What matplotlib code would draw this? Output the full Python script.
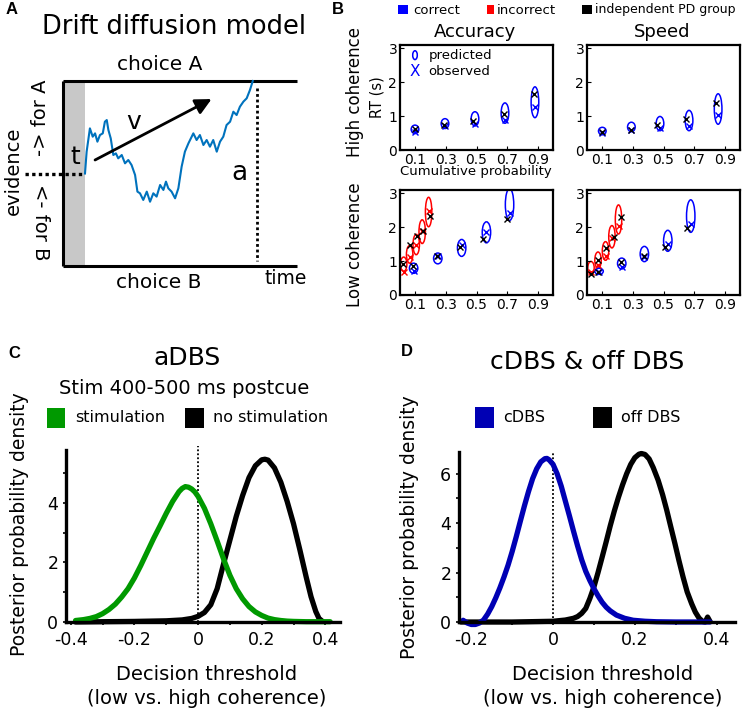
import matplotlib
matplotlib.use('Agg')
import matplotlib.pyplot as plt
from matplotlib.patches import Ellipse, Rectangle

plt.rcParams['font.family'] = ['DejaVu Sans']
plt.rcParams['axes.unicode_minus'] = False

# ---------------- data ----------------
# Panel A: drift diffusion trace (time 0..1, evidence -1..1)
walk_time = [0.094, 0.101, 0.115, 0.127, 0.137, 0.147, 0.158, 0.170, 0.179, 0.187,
             0.194, 0.204, 0.215, 0.226, 0.236, 0.251, 0.265, 0.279, 0.293, 0.308,
             0.318, 0.329, 0.343, 0.358, 0.372, 0.386, 0.400, 0.415, 0.429, 0.440,
             0.450, 0.464, 0.479, 0.493, 0.507, 0.521, 0.536, 0.557, 0.571, 0.585,
             0.600, 0.614, 0.628, 0.642, 0.657, 0.671, 0.685, 0.699, 0.714, 0.728,
             0.742, 0.756, 0.771, 0.785, 0.799, 0.811]
walk_evidence = [0.0, 0.236, 0.488, 0.398, 0.434, 0.344, 0.416, 0.434, 0.560, 0.578,
                 0.470, 0.380, 0.200, 0.218, 0.164, 0.200, 0.110, 0.146, 0.092, -0.016,
                 -0.196, -0.214, -0.286, -0.196, -0.305, -0.214, -0.250, -0.124, -0.178, -0.088,
                 -0.160, -0.196, -0.268, -0.160, 0.074, 0.236, 0.326, 0.434, 0.362, 0.416,
                 0.308, 0.362, 0.290, 0.362, 0.236, 0.344, 0.398, 0.524, 0.560, 0.668,
                 0.632, 0.722, 0.777, 0.813, 0.903, 1.0]
nondecision_t = 0.094
boundary_t = 0.829
drift_start = (0.137, 0.146)
drift_end = (0.635, 0.805)

# Panel B quantile data
quant_ticks = [0.1, 0.3, 0.5, 0.7, 0.9]
quant_labels = ['0.1', '0.3', '0.5', '0.7', '0.9']
rt_ticks = [0, 1, 2, 3]

# High coherence, accuracy
hacc_pred_q = [0.098, 0.294, 0.49, 0.686, 0.882]
hacc_pred_rt = [0.61, 0.78, 0.92, 1.09, 1.41]
hacc_pred_h = [0.25, 0.29, 0.42, 0.60, 0.91]
hacc_obs_rt = [0.52, 0.70, 0.78, 0.89, 1.28]
hacc_pd_q = [0.098, 0.29, 0.48, 0.68, 0.875]
hacc_pd_rt = [0.63, 0.73, 0.87, 1.05, 1.64]

# High coherence, speed
hspd_pred_q = [0.10, 0.29, 0.477, 0.667, 0.857]
hspd_pred_rt = [0.56, 0.68, 0.78, 0.87, 1.21]
hspd_pred_h = [0.22, 0.28, 0.42, 0.60, 0.90]
hspd_obs_rt = [0.49, 0.60, 0.66, 0.72, 1.02]
hspd_pd_q = [0.096, 0.286, 0.46, 0.65, 0.84]
hspd_pd_rt = [0.53, 0.60, 0.73, 0.92, 1.40]

# Low coherence, accuracy
lacc_cor_q = [0.089, 0.247, 0.403, 0.565, 0.716]
lacc_cor_rt = [0.79, 1.08, 1.39, 1.85, 2.67]
lacc_cor_h = [0.30, 0.32, 0.50, 0.62, 0.94]
lacc_cor_obs = [0.72, 1.15, 1.49, 1.85, 2.42]
lacc_inc_q = [0.024, 0.063, 0.106, 0.145, 0.187]
lacc_inc_rt = [0.91, 1.20, 1.49, 1.87, 2.45]
lacc_inc_h = [0.42, 0.52, 0.60, 0.70, 0.87]
lacc_inc_obs = [0.67, 1.12, 1.48, 1.90, 2.47]
lacc_pd_q = [0.02, 0.065, 0.112, 0.148, 0.194, 0.085, 0.24, 0.39, 0.545, 0.70]
lacc_pd_rt = [0.91, 1.49, 1.73, 1.89, 2.34, 0.87, 1.15, 1.42, 1.65, 2.25]

# Low coherence, speed
lspd_cor_q = [0.079, 0.227, 0.375, 0.528, 0.678]
lspd_cor_rt = [0.70, 0.93, 1.21, 1.60, 2.33]
lspd_cor_h = [0.18, 0.32, 0.45, 0.62, 0.96]
lspd_cor_obs = [0.68, 0.84, 1.13, 1.52, 2.10]
lspd_inc_q = [0.026, 0.072, 0.121, 0.163, 0.206]
lspd_inc_rt = [0.80, 1.03, 1.30, 1.72, 2.23]
lspd_inc_h = [0.38, 0.48, 0.55, 0.66, 0.86]
lspd_inc_obs = [0.68, 0.88, 1.14, 1.67, 2.04]
lspd_pd_q = [0.026, 0.074, 0.121, 0.174, 0.222, 0.075, 0.222, 0.37, 0.513, 0.656]
lspd_pd_rt = [0.63, 1.03, 1.40, 1.72, 2.30, 0.68, 0.96, 1.15, 1.43, 1.98]

# Panel C posterior densities
c_stim_x = [-0.385, -0.36, -0.34, -0.32, -0.30, -0.28, -0.26, -0.24, -0.22, -0.20,
            -0.18, -0.16, -0.14, -0.12, -0.10, -0.08, -0.06, -0.05, -0.04, -0.03,
            -0.02, -0.01, 0.00, 0.02, 0.04, 0.06, 0.08, 0.10, 0.12, 0.14,
            0.16, 0.18, 0.20, 0.22, 0.24, 0.26, 0.28, 0.30, 0.34, 0.38, 0.415]
c_stim_y = [0.05, 0.08, 0.12, 0.18, 0.28, 0.42, 0.60, 0.84, 1.12, 1.48,
            1.90, 2.35, 2.80, 3.22, 3.65, 4.05, 4.38, 4.49, 4.55, 4.53,
            4.47, 4.37, 4.22, 3.82, 3.30, 2.72, 2.12, 1.57, 1.12, 0.78,
            0.52, 0.34, 0.22, 0.13, 0.08, 0.05, 0.03, 0.02, 0.01, 0.01, 0.01]
c_nostim_x = [-0.385, -0.30, -0.20, -0.10, -0.05, -0.02, 0.0, 0.02, 0.04, 0.06,
              0.08, 0.10, 0.12, 0.14, 0.16, 0.18, 0.20, 0.21, 0.22, 0.24,
              0.26, 0.28, 0.30, 0.32, 0.34, 0.355, 0.37, 0.38, 0.39]
c_nostim_y = [0.0, 0.01, 0.02, 0.04, 0.07, 0.12, 0.19, 0.32, 0.58, 1.12,
              1.95, 2.75, 3.55, 4.25, 4.85, 5.25, 5.45, 5.47, 5.44, 5.18,
              4.70, 4.05, 3.30, 2.42, 1.50, 0.85, 0.35, 0.12, 0.03]
c_xticks = [-0.4, -0.2, 0.0, 0.2, 0.4]
c_xlabels = ['-0.4', '-0.2', '0', '0.2', '0.4']
c_yticks = [0, 2, 4]

# Panel D posterior densities
d_cdbs_x = [-0.22, -0.21, -0.20, -0.19, -0.18, -0.17, -0.16, -0.15, -0.14, -0.13,
            -0.12, -0.11, -0.10, -0.09, -0.08, -0.07, -0.06, -0.05, -0.04, -0.03,
            -0.02, -0.015, -0.01, 0.0, 0.01, 0.02, 0.03, 0.04, 0.05, 0.06,
            0.07, 0.08, 0.09, 0.10, 0.11, 0.12, 0.13, 0.14, 0.155, 0.175,
            0.196, 0.225, 0.253, 0.30, 0.384]
d_cdbs_y = [0.07, -0.04, -0.10, -0.10, -0.04, 0.08, 0.32, 0.62, 0.98, 1.38,
            1.82, 2.30, 2.85, 3.45, 4.08, 4.70, 5.28, 5.80, 6.20, 6.48,
            6.61, 6.62, 6.57, 6.38, 6.00, 5.50, 4.90, 4.30, 3.68, 3.08,
            2.52, 2.05, 1.68, 1.35, 1.06, 0.80, 0.60, 0.45, 0.28, 0.15,
            0.07, 0.03, 0.01, 0.0, 0.0]
d_off_x = [-0.225, -0.10, 0.0, 0.03, 0.05, 0.06, 0.07, 0.08, 0.09, 0.10,
           0.11, 0.12, 0.13, 0.14, 0.15, 0.16, 0.17, 0.18, 0.19, 0.20,
           0.21, 0.216, 0.225, 0.235, 0.245, 0.257, 0.268, 0.278, 0.288, 0.298,
           0.308, 0.318, 0.328, 0.339, 0.348, 0.357, 0.366, 0.372, 0.378, 0.384]
d_off_y = [0.0, 0.0, 0.03, 0.08, 0.15, 0.22, 0.35, 0.55, 0.95, 1.42,
           2.00, 2.62, 3.25, 3.90, 4.50, 5.05, 5.55, 6.00, 6.38, 6.65,
           6.79, 6.82, 6.78, 6.60, 6.25, 5.74, 5.15, 4.53, 3.85, 3.18,
           2.48, 1.82, 1.22, 0.74, 0.40, 0.16, 0.02, 0.0, 0.20, 0.02]
d_xticks = [-0.2, 0.0, 0.2, 0.4]
d_xlabels = ['-0.2', '0', '0.2', '0.4']
d_yticks = [0, 2, 4, 6]

# ---------------- layout helpers ----------------
W, H = 744, 711
fig = plt.figure(figsize=(W / 100, H / 100), dpi=100)


def fx(px):
    return px / W


def fy(py):
    return 1 - py / H


def ax_px(l, t, r, b):
    return fig.add_axes([l / W, 1 - b / H, (r - l) / W, (b - t) / H])


def ftext(px, py, s, size, ha='center', va='center', **kw):
    fig.text(fx(px), fy(py), s, fontsize=size, ha=ha, va=va, **kw)


def fsquare(l, t, r, b, color):
    fig.add_artist(Rectangle((fx(l), fy(b)), (r - l) / W, (b - t) / H,
                             transform=fig.transFigure, color=color, lw=0))


LETTER = dict(family=['Liberation Sans', 'DejaVu Sans'], weight='bold')

# ---------------- Panel A ----------------
axA = ax_px(63, 81, 297, 266)
axA.set_xlim(0, 1)
axA.set_ylim(-1, 1)
axA.axis('off')
axA.axvspan(0, nondecision_t, color='#c8c8c8', lw=0)
axA.plot([0, 1], [1, 1], color='k', lw=2.2, clip_on=False, solid_capstyle='butt')
axA.plot([0, 1], [-1, -1], color='k', lw=2.2, clip_on=False, solid_capstyle='butt')
axA.plot([0, 0], [-1, 1], color='k', lw=2.2, clip_on=False, solid_capstyle='butt')
axA.plot(walk_time, walk_evidence, color='#0072bd', lw=1.5, clip_on=False)
axA.plot([-0.162, nondecision_t], [0, 0], color='k', lw=2.4, ls=(0, (1, 1)), clip_on=False)
axA.plot([boundary_t, boundary_t], [0.924, -0.946], color='k', lw=2.0, ls=(0, (1, 1)), clip_on=False)
axA.annotate('', xy=drift_end, xytext=drift_start,
             arrowprops=dict(arrowstyle='-|>', color='k', lw=2.0, mutation_scale=24,
                             shrinkA=0, shrinkB=0))
axA.text(0.30, 0.56, 'v', fontsize=18, ha='center', va='center')
axA.text(0.052, 0.18, 't', fontsize=18, ha='center', va='center')
axA.text(0.752, 0.01, 'a', fontsize=19, ha='center', va='center')

ftext(12, 9, 'A', 12, **LETTER)
ftext(174, 27, 'Drift diffusion model', 18.5)
ftext(160, 65, 'choice A', 14.5)
ftext(159, 282, 'choice B', 14.5)
ftext(286, 278, 'time', 13.5)
ftext(13, 171, 'evidence', 14, rotation=90)
ftext(40, 118, '-> for A', 14, rotation=90)
ftext(40, 222, '<- for B', 14, rotation=-90)

# ---------------- Panel B ----------------
ftext(338, 9, 'B', 12, **LETTER)
fsquare(398, 5, 408, 14, '#0000ff')
ftext(413, 10, 'correct', 9.5, ha='left')
fsquare(487, 5, 494, 14, '#ff0000')
ftext(497, 10, 'incorrect', 9.5, ha='left')
fsquare(582, 5, 592, 14, 'k')
ftext(595, 10, 'independent PD group', 9, ha='left')
ftext(475, 32, 'Accuracy', 13)
ftext(662, 32, 'Speed', 13)
ftext(355, 92, 'High coherence', 12, rotation=90)
ftext(377, 97, 'RT (s)', 10.5, rotation=90)
ftext(355, 245, 'Low coherence', 12, rotation=90)
ftext(476, 172, 'Cumulative probability', 9.5)


def style_b(ax):
    ax.set_xlim(0, 1)
    ax.set_ylim(0, 3.1)
    ax.set_xticks(quant_ticks)
    ax.set_xticklabels(quant_labels)
    ax.set_yticks(rt_ticks)
    ax.set_yticklabels([str(v) for v in rt_ticks])
    ax.tick_params(direction='in', length=3, width=0.8, labelsize=10, pad=2)
    for s in ax.spines.values():
        s.set_linewidth(1.6)


def draw_ellipses(ax, q, rt, h, color, w):
    for xq, yr, hh in zip(q, rt, h):
        ax.add_patch(Ellipse((xq, yr), w, hh, fill=False, ec=color, lw=1.1))


def draw_x(ax, q, rt, color):
    ax.plot(q, rt, ls='none', marker='x', ms=5, mew=1.0, color=color)


axB1 = ax_px(400, 45, 553, 150)
style_b(axB1)
draw_ellipses(axB1, hacc_pred_q, hacc_pred_rt, hacc_pred_h, '#0000ff', 0.05)
draw_x(axB1, hacc_pred_q, hacc_obs_rt, '#0000ff')
draw_x(axB1, hacc_pd_q, hacc_pd_rt, 'k')
axB1.add_patch(Ellipse((0.098, 2.80), 0.03, 0.26, fill=False, ec='#0000ff', lw=1.1))
axB1.text(0.098, 2.33, 'X', color='#0000ff', fontsize=11, ha='center', va='center')
axB1.text(0.185, 2.80, 'predicted', fontsize=9.5, ha='left', va='center')
axB1.text(0.185, 2.33, 'observed', fontsize=9.5, ha='left', va='center')

axB2 = ax_px(587, 45, 740, 150)
style_b(axB2)
draw_ellipses(axB2, hspd_pred_q, hspd_pred_rt, hspd_pred_h, '#0000ff', 0.05)
draw_x(axB2, hspd_pred_q, hspd_obs_rt, '#0000ff')
draw_x(axB2, hspd_pd_q, hspd_pd_rt, 'k')

axB3 = ax_px(400, 190, 553, 295)
style_b(axB3)
draw_ellipses(axB3, lacc_inc_q, lacc_inc_rt, lacc_inc_h, '#ff0000', 0.042)
draw_ellipses(axB3, lacc_cor_q, lacc_cor_rt, lacc_cor_h, '#0000ff', 0.055)
draw_x(axB3, lacc_inc_q, lacc_inc_obs, '#ff0000')
draw_x(axB3, lacc_cor_q, lacc_cor_obs, '#0000ff')
draw_x(axB3, lacc_pd_q, lacc_pd_rt, 'k')

axB4 = ax_px(587, 190, 740, 295)
style_b(axB4)
draw_ellipses(axB4, lspd_inc_q, lspd_inc_rt, lspd_inc_h, '#ff0000', 0.042)
draw_ellipses(axB4, lspd_cor_q, lspd_cor_rt, lspd_cor_h, '#0000ff', 0.055)
draw_x(axB4, lspd_inc_q, lspd_inc_obs, '#ff0000')
draw_x(axB4, lspd_cor_q, lspd_cor_obs, '#0000ff')
draw_x(axB4, lspd_pd_q, lspd_pd_rt, 'k')

# ---------------- Panels C & D ----------------


def style_cd(ax, xticks, xlabels, yticks, xlim, ylim):
    ax.set_xlim(*xlim)
    ax.set_ylim(*ylim)
    for s in ['top', 'right']:
        ax.spines[s].set_visible(False)
    for s in ['left', 'bottom']:
        ax.spines[s].set_linewidth(2.4)
    ax.set_xticks(xticks)
    ax.set_xticklabels(xlabels)
    ax.set_yticks(yticks)
    ax.set_yticklabels([str(v) for v in yticks])
    ax.tick_params(which='both', direction='out', length=2.5, width=1.2,
                   labelsize=12.5)
    ax.tick_params(axis='x', pad=4)
    ax.tick_params(axis='y', pad=3)
    ax.patch.set_alpha(0)


green = '#009900'
dblue = '#0000b4'

axC = ax_px(66, 450, 340, 622)
style_cd(axC, c_xticks, c_xlabels, c_yticks, (-0.415, 0.446), (0, 5.78))
axC.set_xticks([-0.3, -0.1, 0.1, 0.3], minor=True)
axC.set_yticks([1, 3, 5], minor=True)
axC.plot([0, 0], [0, 5.92], color='k', lw=1.3, ls=(0, (1, 1.2)), clip_on=False)
axC.plot(c_nostim_x, c_nostim_y, color='k', lw=3.8, clip_on=False,
         solid_capstyle='round', solid_joinstyle='round')
axC.plot(c_stim_x, c_stim_y, color=green, lw=3.8, clip_on=False,
         solid_capstyle='round', solid_joinstyle='round')

ftext(14, 353, 'C', 12, **LETTER)
ftext(187, 358, 'aDBS', 18)
ftext(184, 389, 'Stim 400-500 ms postcue', 14)
fsquare(47, 408, 65, 428, green)
ftext(75, 418, 'stimulation', 11.5, ha='left')
fsquare(185, 408, 204, 428, 'k')
ftext(213, 418, 'no stimulation', 11.5, ha='left')
ftext(20, 524, 'Posterior probability density', 13.5, rotation=90)
ftext(207, 675, 'Decision threshold', 14)
ftext(207, 698, '(low vs. high coherence)', 14)

axD = ax_px(459, 452, 735, 622)
style_cd(axD, d_xticks, d_xlabels, d_yticks, (-0.23, 0.445), (0, 6.88))
axD.set_xticks([-0.1, 0.1, 0.3], minor=True)
axD.set_yticks([1, 3, 5], minor=True)
axD.plot([0, 0], [0, 6.9], color='k', lw=1.3, ls=(0, (1, 1.2)), clip_on=False)
axD.plot(d_off_x, d_off_y, color='k', lw=3.8, clip_on=False,
         solid_capstyle='round', solid_joinstyle='round')
axD.plot(d_cdbs_x, d_cdbs_y, color=dblue, lw=3.8, clip_on=False,
         solid_capstyle='round', solid_joinstyle='round')

ftext(407, 352, 'D', 12, **LETTER)
ftext(587, 362, 'cDBS & off DBS', 18)
fsquare(475, 407, 494, 428, dblue)
ftext(503, 418, 'cDBS', 11.5, ha='left')
fsquare(593, 407, 612, 428, 'k')
ftext(621, 418, 'off DBS', 11.5, ha='left')
ftext(410, 527, 'Posterior probability density', 13.5, rotation=90)
ftext(603, 675, 'Decision threshold', 14)
ftext(603, 698, '(low vs. high coherence)', 14)

fig.savefig('out.png', dpi=100)
